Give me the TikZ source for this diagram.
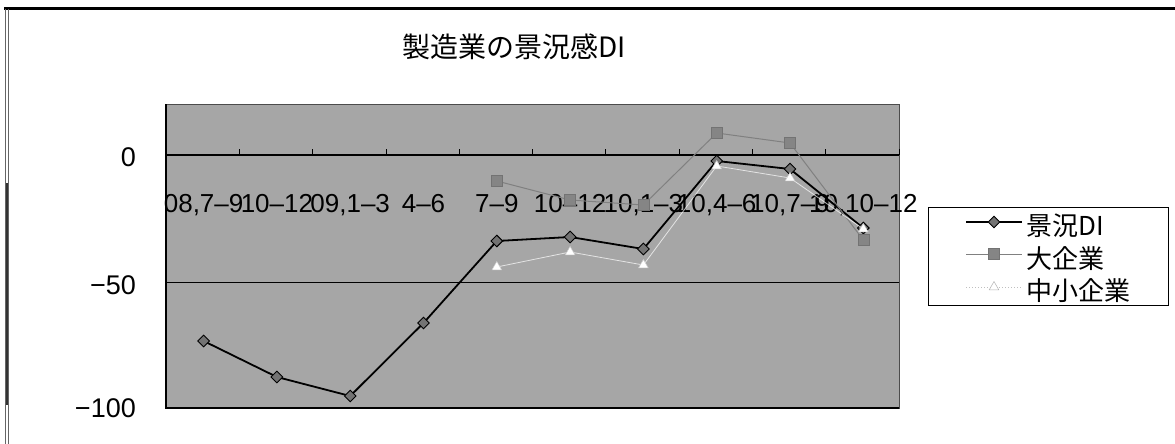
\documentclass[tikz,border=0pt]{standalone}
\usepackage{fontspec}
\setmainfont{Liberation Sans}
\newfontfamily\cjk{Noto Sans CJK JP}
\usetikzlibrary{shapes.geometric}
\definecolor{plotbg}{gray}{0.65}
\tikzset{
  dmark/.style={diamond,draw=black,fill=black!55,line width=0.9pt,minimum size=12pt,inner sep=0pt},
  smark/.style={rectangle,draw=black!55,fill=black!48,line width=0.6pt,minimum size=11pt,inner sep=0pt},
  tmark/.style={regular polygon,regular polygon sides=3,draw=black!20,fill=white,line width=0.5pt,minimum size=11pt,inner sep=0pt},
  dline/.style={black,line width=1.8pt},
  sline/.style={black!50,line width=1pt},
  tline/.style={white,line width=0.8pt,opacity=0.7},
  axlab/.style={font=\fontsize{27}{27}\selectfont,inner sep=0pt},
  catlab/.style={font=\fontsize{26}{26}\selectfont,inner sep=0pt,anchor=base},
  leglab/.style={font=\cjk\fontsize{26}{26}\selectfont,inner sep=0pt,anchor=west},
}
\begin{document}
\begin{tikzpicture}[x=1pt,y=-1pt]
\useasboundingbox (0,0) rectangle (1175,444);
% outer frame
\draw[black,line width=3pt] (4,9) -- (1175,9);
\draw[black!60,line width=1pt] (5,9) -- (5,444);
\draw[black!60,line width=1pt] (8.5,9) -- (8.5,444);
\draw[black!80,line width=2pt] (6.5,183) -- (6.5,405);
% title
\node[font=\cjk\fontsize{28}{28}\selectfont,inner sep=0pt] (title) at (514,47) {製造業の景況感DI};
% plot area
\fill[plotbg] (166,104) rectangle (899,408);
\draw[black!70,line width=0.7pt] (166,104) rectangle (899,408);
\draw[black,line width=1.2pt] (166,104) -- (166,408) -- (899,408);
% gridline -50 and zero axis
\draw[black,line width=1.5pt] (166,282.5) -- (899,282.5);
\draw[black,line width=2.4pt] (166,155) -- (899,155);
\foreach \k in {0,...,10} {\draw[black,line width=0.8pt] ({166+73.3*\k},149) -- ({166+73.3*\k},155);}
% y labels
\node[axlab,anchor=east] (y0) at (136,157) {0};
\node[axlab,anchor=east] (y50) at (136,285) {−50};
\node[axlab,anchor=east] (y100) at (136,408) {−100};
% category labels
\node[catlab] (c1) at (203.6,212) {08,7–9};
\node[catlab] (c2) at (276.9,212) {10–12};
\node[catlab] (c3) at (350.2,212) {09,1–3};
\node[catlab] (c4) at (423.5,212) {4–6};
\node[catlab] (c5) at (496.8,212) {7–9};
\node[catlab] (c6) at (570.1,212) {10–12};
\node[catlab] (c7) at (643.4,212) {10,1–3};
\node[catlab] (c8) at (716.7,212) {10,4–6};
\node[catlab] (c9) at (790.0,212) {10,7–9};
\node[catlab] (c10) at (863.3,212) {10,10–12};
% series coordinates
\coordinate (a1) at (203.6,341);
\coordinate (a2) at (276.9,377);
\coordinate (a3) at (350.2,396);
\coordinate (a4) at (423.5,323);
\coordinate (a5) at (496.8,241);
\coordinate (a6) at (570.1,237);
\coordinate (a7) at (643.4,249);
\coordinate (a8) at (716.7,161);
\coordinate (a9) at (790.0,169);
\coordinate (a10) at (863.3,228);
\coordinate (b5) at (496.8,181);
\coordinate (b6) at (570.1,200);
\coordinate (b7) at (643.4,205);
\coordinate (b8) at (716.7,133);
\coordinate (b9) at (790.0,143);
\coordinate (b10) at (863.3,240);
\coordinate (s5) at (496.8,267);
\coordinate (s6) at (570.1,252);
\coordinate (s7) at (643.4,265);
\coordinate (s8) at (716.7,166);
\coordinate (s9) at (790.0,178);
\coordinate (s10) at (863.3,229);
% 景況DI
\draw[dline] (a1) -- (a2) -- (a3) -- (a4) -- (a5) -- (a6) -- (a7) -- (a8) -- (a9) -- (a10);
\foreach \p in {a1,a2,a3,a4,a5,a6,a7,a8,a9,a10} \node[dmark] (m\p) at (\p) {};
% 大企業
\draw[sline] (b5) -- (b6) -- (b7) -- (b8) -- (b9) -- (b10);
\foreach \p in {b5,b6,b7,b8,b9,b10} \node[smark] (m\p) at (\p) {};
% 中小企業
\draw[tline] (s5) -- (s6) -- (s7) -- (s8) -- (s9) -- (s10);
\foreach \p in {s5,s6,s7,s8,s9,s10} \node[tmark] (m\p) at (\p) {};
% legend
\draw[black,line width=0.8pt] (928,207) rectangle (1168,305);
\coordinate (la) at (966,222); \coordinate (lae) at (1022,222);
\coordinate (lb) at (966,254); \coordinate (lbe) at (1022,254);
\coordinate (lc) at (966,287); \coordinate (lce) at (1022,287);
\draw[dline] (la) -- (lae);
\node[dmark] (lam) at (994,222) {};
\draw[sline] (lb) -- (lbe);
\node[smark] (lbm) at (994,254) {};
\draw[black!25,line width=1pt,dotted] (lc) -- (lce);
\node[tmark,draw=black!30] (lcm) at (994,287) {};
\node[leglab] (lt1) at (1026,226) {景況DI};
\node[leglab] (lt2) at (1026,259) {大企業};
\node[leglab] (lt3) at (1026,291) {中小企業};
\end{tikzpicture}
\end{document}
